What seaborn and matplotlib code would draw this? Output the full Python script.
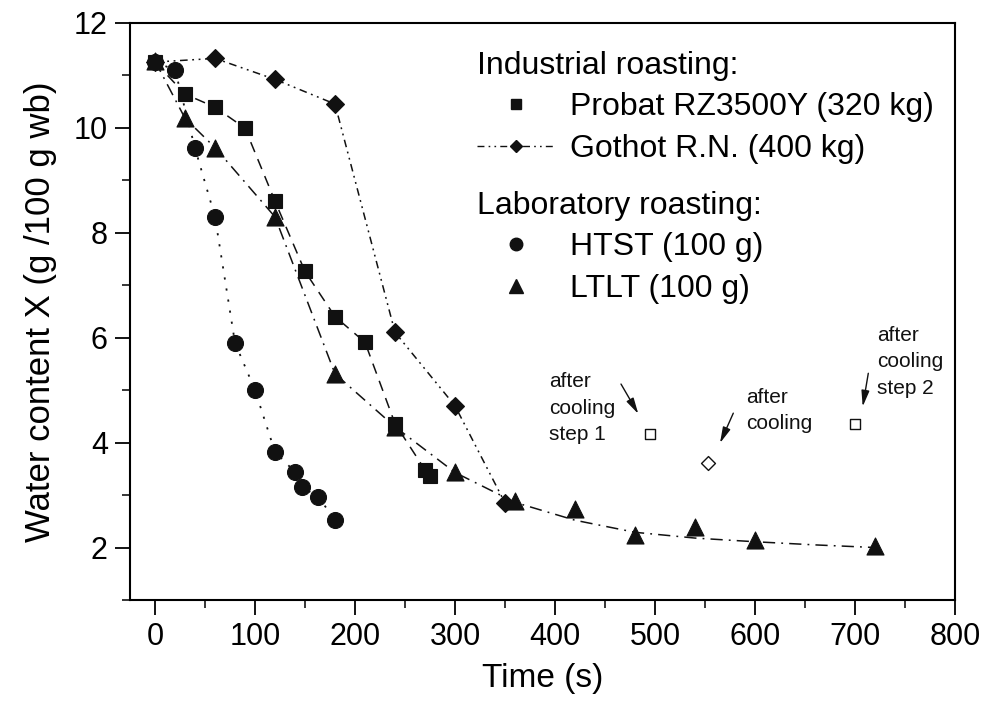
import matplotlib
matplotlib.use("Agg")
import matplotlib.pyplot as plt
import seaborn as sns
from matplotlib.lines import Line2D
from matplotlib.ticker import MultipleLocator

# ---------------- data ----------------
# Industrial roasting: Probat RZ3500Y (320 kg)
time_probat = [0, 30, 60, 90, 120, 150, 180, 210, 240, 270, 275]
x_probat = [11.25, 10.64, 10.39, 9.99, 8.60, 7.26, 6.40, 5.91, 4.36, 3.48, 3.37]

# Industrial roasting: Gothot R.N. (400 kg)
time_gothot = [0, 60, 120, 180, 240, 300, 350]
x_gothot = [11.25, 11.32, 10.92, 10.45, 6.10, 4.70, 2.85]

# Laboratory roasting: HTST (100 g)
time_htst = [0, 20, 40, 60, 80, 100, 120, 140, 147, 163, 180]
x_htst = [11.25, 11.10, 9.61, 8.30, 5.90, 5.00, 3.82, 3.44, 3.15, 2.97, 2.53]

# Laboratory roasting: LTLT (100 g) - measured points
time_ltlt = [0, 30, 60, 120, 180, 240, 300, 360, 420, 480, 540, 600, 720]
x_ltlt = [11.27, 10.18, 9.62, 8.30, 5.31, 4.30, 3.43, 2.88, 2.73, 2.24, 2.40, 2.15, 2.02]

# LTLT guide curve as drawn in the figure
time_ltlt_curve = [0, 30, 60, 120, 180, 240, 300, 360, 420, 480, 540, 600, 660, 720]
x_ltlt_curve = [11.27, 10.18, 9.62, 8.30, 5.31, 4.30, 3.43, 2.86, 2.52, 2.29, 2.18, 2.11, 2.05, 2.00]

# values after cooling (open symbols)
time_cool_probat = [495, 700]
x_cool_probat = [4.17, 4.36]
time_cool_gothot = [553]
x_cool_gothot = [3.61]

labels_industrial = ["Probat RZ3500Y (320 kg)", "Gothot R.N. (400 kg)"]
labels_lab = ["HTST (100 g)", "LTLT (100 g)"]
annotation_texts = ["after\ncooling\nstep 1", "after\ncooling", "after\ncooling\nstep 2"]

# ---------------- style ----------------
sns.set_theme(style="ticks")
plt.rcParams["font.family"] = ["Liberation Sans", "DejaVu Sans"]
plt.rcParams["axes.linewidth"] = 1.5
plt.rcParams["axes.edgecolor"] = "black"
plt.rcParams["text.color"] = "black"
plt.rcParams["axes.labelcolor"] = "black"
plt.rcParams["xtick.color"] = "black"
plt.rcParams["ytick.color"] = "black"

K = "#111111"
fig = plt.figure(figsize=(9.89, 7.2), dpi=100)
ax = fig.add_axes([130 / 989, 1 - 600 / 720, 825 / 989, (600 - 22.7) / 720])

ls_probat = (0, (7, 5))
ls_gothot = (0, (5, 3, 1.2, 3, 1.2, 3))
ls_htst = (0, (1.2, 5))
ls_ltlt = (0, (8, 4, 1.2, 4))

# Probat
sns.lineplot(x=time_probat, y=x_probat, ax=ax, color=K, linewidth=1.1,
             linestyle=ls_probat, marker="s", markersize=9.5,
             markeredgecolor=K, markeredgewidth=0.8,
             estimator=None, sort=False, legend=False)
# Gothot
sns.lineplot(x=time_gothot, y=x_gothot, ax=ax, color=K, linewidth=1.1,
             linestyle=ls_gothot, marker="D", markersize=9,
             markeredgecolor=K, markeredgewidth=0.8,
             estimator=None, sort=False, legend=False)
# HTST
sns.lineplot(x=time_htst, y=x_htst, ax=ax, color=K, linewidth=1.3,
             linestyle=ls_htst, marker="o", markersize=11.5,
             markeredgecolor=K, markeredgewidth=0.8,
             estimator=None, sort=False, legend=False)
# LTLT guide curve + points
sns.lineplot(x=time_ltlt_curve, y=x_ltlt_curve, ax=ax, color=K, linewidth=1.1,
             linestyle=ls_ltlt, estimator=None, sort=False, legend=False)
sns.scatterplot(x=time_ltlt, y=x_ltlt, ax=ax, color=K, marker="^", s=150,
                edgecolor=K, linewidth=0.8, legend=False, zorder=3)

# after cooling (open symbols)
sns.scatterplot(x=time_cool_probat, y=x_cool_probat, ax=ax, marker="s", s=55,
                facecolor="white", edgecolor=K, linewidth=1.0, legend=False, zorder=3)
sns.scatterplot(x=time_cool_gothot, y=x_cool_gothot, ax=ax, marker="D", s=50,
                facecolor="white", edgecolor=K, linewidth=1.0, legend=False, zorder=3)

# annotations
ann_text_pos = [(394, 4.655), (591, 4.613), (722.3, 5.543)]
ann_arrow_from = [(466, 5.115), (578.3, 4.56), (713.3, 5.32)]
ann_arrow_to = [(483.3, 4.547), (565, 3.99), (707.7, 4.686)]
for txt, tp, a0, a1 in zip(annotation_texts, ann_text_pos, ann_arrow_from, ann_arrow_to):
    ax.text(tp[0], tp[1], txt, fontsize=15, ha="left", va="center",
            linespacing=1.5, color=K)
    ax.annotate("", xy=a1, xytext=a0,
                arrowprops=dict(arrowstyle="-|>,head_length=0.8,head_width=0.2",
                                color=K, lw=1.0, shrinkA=0, shrinkB=0))

# axes
ax.set_xlim(-25, 800)
ax.set_ylim(1, 12)
ax.xaxis.set_major_locator(MultipleLocator(100))
ax.xaxis.set_minor_locator(MultipleLocator(50))
ax.yaxis.set_major_locator(MultipleLocator(2))
ax.yaxis.set_minor_locator(MultipleLocator(1))
ax.tick_params(which="major", direction="out", length=11, width=1.3,
               labelsize=22, pad=5)
ax.tick_params(which="minor", direction="out", length=6, width=1.1)
ax.set_xlabel("Time (s)", fontsize=24, labelpad=8)
ax.set_ylabel("Water content X (g /100 g wb)", fontsize=25, labelpad=12)
for sp in ax.spines.values():
    sp.set_visible(True)
    sp.set_linewidth(1.5)
    sp.set_color("black")

# legends (two grouped legends with headings)
h_probat = Line2D([], [], ls="none", marker="s", ms=7, color=K, mec=K)
h_gothot = Line2D([], [], ls=ls_gothot, lw=1.0, marker="D", ms=6.5, color=K, mec=K)
h_htst = Line2D([], [], ls="none", marker="o", ms=9, color=K, mec=K)
h_ltlt = Line2D([], [], ls="none", marker="^", ms=9.5, color=K, mec=K)

leg_kw = dict(loc="upper left", frameon=False, fontsize=23, title_fontsize=23,
              handlelength=2.44, handletextpad=0.47, labelspacing=0.36,
              borderpad=0, borderaxespad=0, alignment="left")
leg1 = ax.legend([h_probat, h_gothot], labels_industrial,
                 title="Industrial roasting:", bbox_to_anchor=(0.4206, 0.9515), **leg_kw)
ax.add_artist(leg1)
leg2 = ax.legend([h_htst, h_ltlt], labels_lab,
                 title="Laboratory roasting:", bbox_to_anchor=(0.4206, 0.709), **leg_kw)

fig.savefig("out.png", dpi=100)
